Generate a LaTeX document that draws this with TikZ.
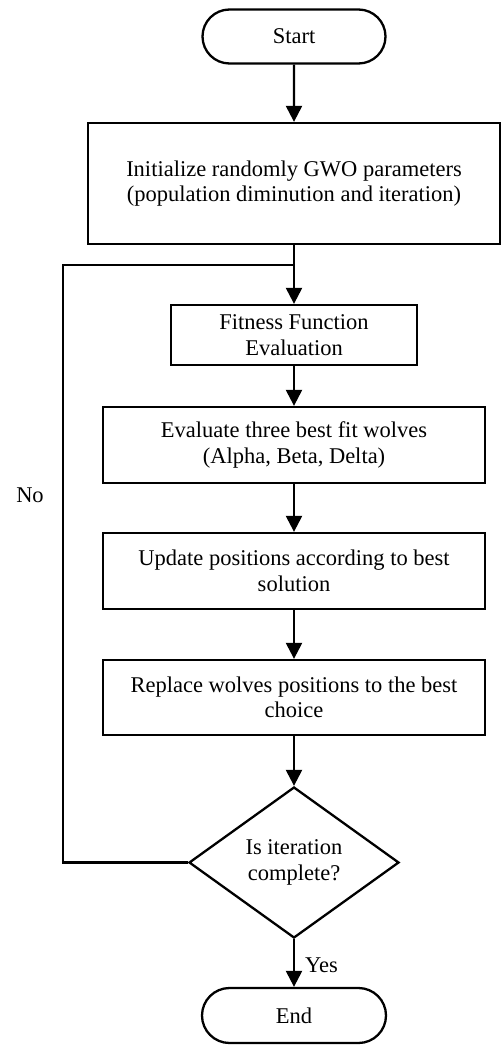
\documentclass[tikz,border=0pt]{standalone}
\usepackage{fontspec}
\setmainfont{Liberation Serif}
\usetikzlibrary{shapes.misc,shapes.geometric,arrows.meta}
\begin{document}
\begin{tikzpicture}[x=1pt,y=1pt,
  every node/.style={font=\fontsize{22.5}{25.5}\selectfont},
  lw/.style={line width=2.3pt},
  procbox/.style={draw,lw,rectangle,align=center,inner sep=0pt},
  termbox/.style={draw,lw,rounded rectangle,align=center,inner sep=0pt,minimum width=183pt,minimum height=54pt},
  decbox/.style={draw,lw,diamond,align=center,inner sep=0pt,shape aspect=1.39,minimum width=210pt,minimum height=151pt},
  flow/.style={lw,-{Triangle[width=16pt,length=16pt]}},
  plain/.style={draw=none,fill=none,inner sep=0pt}
]
\useasboundingbox[fill=white] (0,0) rectangle (501,-1048);
\node[termbox] (start) at (294,-36.5) {Start};
\node[procbox,minimum width=412pt,minimum height=121pt] (init) at (294,-183.5) {Initialize randomly GWO parameters\\(population diminution and iteration)};
\node[procbox,minimum width=246pt,minimum height=60pt] (fit) at (294,-335) {Fitness Function\\Evaluation};
\node[procbox,minimum width=382pt,minimum height=76pt] (eval) at (294,-445) {Evaluate three best fit wolves\\(Alpha, Beta, Delta)};
\node[procbox,minimum width=382pt,minimum height=76pt] (upd) at (294,-571) {Update positions according to best\\solution};
\node[procbox,minimum width=382pt,minimum height=75pt] (rep) at (294,-697.5) {Replace wolves positions to the best\\choice};
\node[decbox] (dec) at (294,-862.5) {Is iteration\\complete?};
\node[termbox,minimum width=184pt,minimum height=55pt] (end) at (294,-1015.5) {End};
\coordinate (lc) at (63,-862.5);
\coordinate (lt) at (63,-265);
\coordinate (j) at (294,-265);
\draw[flow] (start) -- (init);
\draw[flow] (init) -- (fit);
\draw[flow] (fit) -- (eval);
\draw[flow] (eval) -- (upd);
\draw[flow] (upd) -- (rep);
\draw[flow] (rep) -- (dec);
\draw[flow] (dec) -- node[plain,right,xshift=10pt,yshift=-2pt] (yes) {Yes} (end);
\draw[lw,line join=miter] (dec.west) -- (lc) -- (lt) -- (j);
\node[plain] (no) at (30,-495) {No};
\end{tikzpicture}
\end{document}
